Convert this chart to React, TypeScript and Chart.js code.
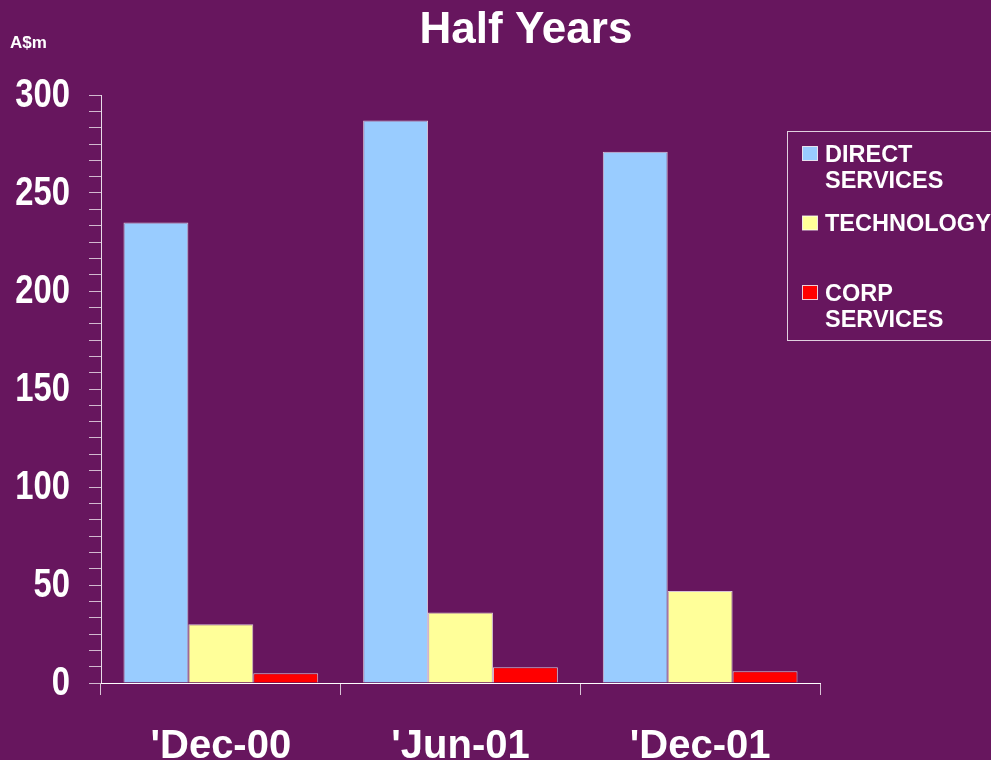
import React, { useEffect, useRef } from "react";
import { Chart, registerables } from "chart.js";

Chart.register(...registerables);

const categories = ["'Dec-00", "'Jun-01", "'Dec-01"];
const seriesNames = ["DIRECT SERVICES", "TECHNOLOGY", "CORP SERVICES"];
const directServices = [235, 287, 271];
const technology = [30, 36, 47];
const corpServices = [5, 8, 6];
const seriesColors = ["#99CCFF", "#FFFF99", "#FF0000"];
const yMajorTicks = [0, 50, 100, 150, 200, 250, 300];
const minorPerMajor = 6;
const titleText = "Half Years";
const unitText = "A$m";

const BG = "#67165E";
const FONT = "'Liberation Sans', Arial, sans-serif";

const decorPlugin = {
  id: "decor",
  beforeDraw(chart: any) {
    const ctx = chart.ctx;
    ctx.save();
    ctx.fillStyle = BG;
    ctx.fillRect(0, 0, chart.width, chart.height);
    ctx.restore();
  },
  afterDraw(chart: any) {
    const ctx = chart.ctx;
    ctx.save();
    // y tick labels (condensed), taken from the y scale's own ticks
    const ys = chart.scales.y;
    ctx.fillStyle = "#FFFFFF";
    ctx.font = `bold 41px ${FONT}`;
    ctx.textAlign = "right";
    ctx.textBaseline = "middle";
    ys.ticks.forEach((t: any) => {
      if (!yMajorTicks.includes(Number(t.value))) return;
      const py = ys.getPixelForValue(t.value);
      ctx.save();
      ctx.translate(70, py + 1);
      ctx.scale(0.8, 1);
      ctx.fillText(String(t.value), 0, 0);
      ctx.restore();
    });
    // title
    ctx.textAlign = "center";
    ctx.textBaseline = "alphabetic";
    ctx.font = `bold 44px ${FONT}`;
    ctx.fillText(titleText, 526, 43);
    // unit
    ctx.textAlign = "left";
    ctx.font = `bold 17px ${FONT}`;
    ctx.fillText(unitText, 10, 48);
    // legend box
    ctx.strokeStyle = "rgba(255,255,255,0.8)";
    ctx.lineWidth = 1;
    ctx.strokeRect(787.5, 131.5, 230, 209);
    ctx.font = `bold 23.5px ${FONT}`;
    chart.data.datasets.forEach((ds: any, i: number) => {
      const top = 146.5 + i * 69.5;
      ctx.fillStyle = ds.backgroundColor;
      ctx.fillRect(802.5, top, 15, 14);
      ctx.strokeStyle = "rgba(255,255,255,0.8)";
      ctx.strokeRect(802.5, top, 15, 14);
      ctx.fillStyle = "#FFFFFF";
      const lines = String(ds.label).split(" ");
      lines.forEach((ln: string, j: number) => {
        ctx.fillText(ln, 825, top + 15 + j * 26.7);
      });
    });
    ctx.restore();
  },
};

export default function App() {
  const ref = useRef<HTMLCanvasElement | null>(null);
  useEffect(() => {
    document.body.style.margin = "0";
    document.body.style.background = BG;
    const canvas = ref.current!;
    const yMax = yMajorTicks[yMajorTicks.length - 1];
    const yStep = yMajorTicks[1] - yMajorTicks[0];
    const values = [directServices, technology, corpServices];
    const chart = new Chart(canvas, {
      type: "bar",
      data: {
        labels: categories,
        datasets: values.map((v, i) => ({
          label: seriesNames[i],
          data: v,
          backgroundColor: seriesColors[i],
          borderColor: "rgba(255,255,255,0.75)",
          borderWidth: 1,
          categoryPercentage: 0.8125,
          barPercentage: 1.0,
        })),
      },
      options: {
        animation: false,
        responsive: false,
        devicePixelRatio: 1,
        layout: { padding: { left: 0, right: 171, top: 95, bottom: 0 } },
        plugins: {
          legend: { display: false },
          title: { display: false },
          tooltip: { enabled: false },
        },
        scales: {
          x: {
            type: "category",
            offset: true,
            afterFit: (s: any) => {
              s.height = 77;
            },
            grid: {
              offset: true,
              drawOnChartArea: false,
              drawTicks: true,
              tickLength: 12,
              color: "rgba(255,255,255,0.75)",
            },
            border: { display: true, color: "#FFFFFF", width: 1 },
            ticks: {
              color: "#FFFFFF",
              font: { family: FONT, size: 40, weight: "bold" },
              padding: 28,
              maxRotation: 0,
            },
          },
          y: {
            min: 0,
            max: yMax,
            afterFit: (s: any) => {
              s.width = 101;
            },
            afterBuildTicks: (s: any) => {
              const n = (yMax / yStep) * minorPerMajor;
              const t = [];
              for (let i = 0; i <= n; i++) t.push({ value: (i * yStep) / minorPerMajor });
              s.ticks = t;
            },
            grid: {
              drawOnChartArea: false,
              drawTicks: true,
              tickLength: 12,
              color: "rgba(255,255,255,0.7)",
            },
            border: { display: true, color: "rgba(255,255,255,0.85)", width: 1 },
            ticks: {
              display: false,
              autoSkip: false,
            },
          },
        },
      },
      plugins: [decorPlugin],
    });
    return () => chart.destroy();
  }, []);
  return (
    <div style={{ width: 991, height: 760, background: BG }}>
      <canvas ref={ref} width={991} height={760} style={{ display: "block" }} />
    </div>
  );
}
